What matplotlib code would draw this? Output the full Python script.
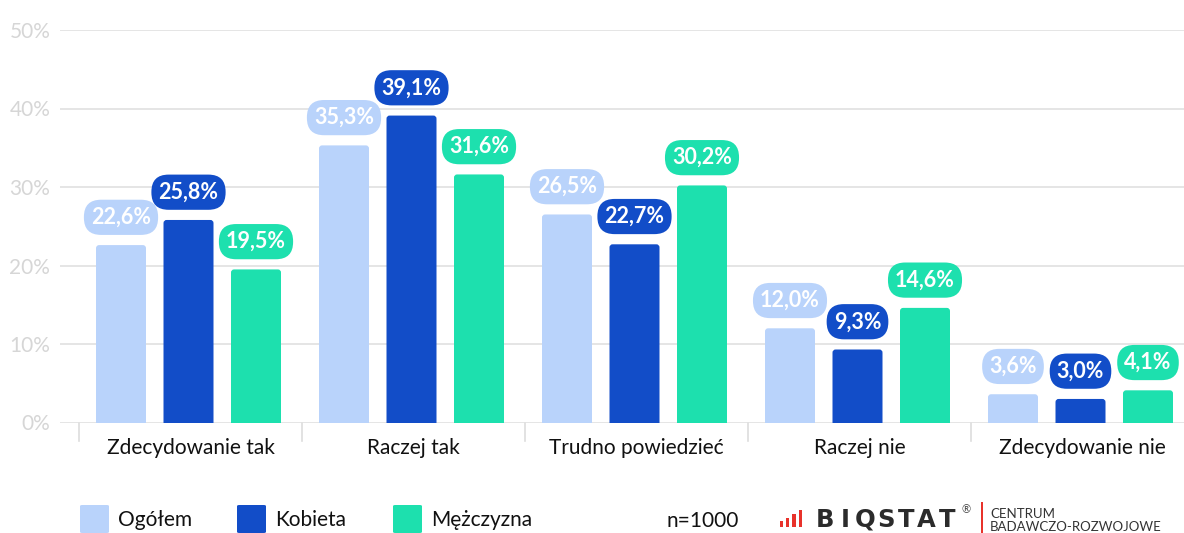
import matplotlib
matplotlib.use("Agg")
import matplotlib.pyplot as plt
import numpy as np
from matplotlib.patches import Rectangle, FancyBboxPatch

plt.rcParams['font.family'] = ['Lato', 'DejaVu Sans']

categories = ["Zdecydowanie tak", "Raczej tak", "Trudno powiedzieć", "Raczej nie", "Zdecydowanie nie"]
series_names = ["Ogółem", "Kobieta", "Mężczyzna"]
ogolem = [22.6, 35.3, 26.5, 12.0, 3.6]
kobieta = [25.8, 39.1, 22.7, 9.3, 3.0]
mezczyzna = [19.5, 31.6, 30.2, 14.6, 4.1]
yticks = [0, 10, 20, 30, 40, 50]
n_label = "n=1000"

colors = ["#b9d3fb", "#124dc8", "#1de0ae"]
series = [ogolem, kobieta, mezczyzna]

W, H = 1184, 533
fig = plt.figure(figsize=(W / 100, H / 100), dpi=100)
px_left, px_right = 60, 1184
px_zero, px_top = 422.5, 30
ax = fig.add_axes([px_left / W, (H - px_zero) / H, (px_right - px_left) / W, (px_zero - px_top) / H])

cat_px = 223.0
x0 = -0.5 - (79 - px_left) / cat_px
x1 = x0 + (px_right - px_left) / cat_px
ax.set_xlim(x0, x1)
ax.set_ylim(0, 50)

x = np.arange(len(categories))
bw = 50 / cat_px
step = 67.5 / cat_px
shift = -2 / cat_px

for i, (vals, col) in enumerate(zip(series, colors)):
    xs = x + (i - 1) * step + shift
    bars = ax.bar(xs, vals, width=bw, color=col, zorder=3)
    for b in bars:
        b.set_visible(False)
        fb = FancyBboxPatch((b.get_x(), -1), b.get_width(), b.get_height() + 1,
                            boxstyle="round,pad=0,rounding_size=0.014",
                            mutation_aspect=(50 / 392.5) / (1 / cat_px),
                            facecolor=col, edgecolor='none', zorder=3)
        ax.add_patch(fb)
    for xi, v in zip(xs, vals):
        ax.annotate(f"{v:.1f}%".replace('.', ','), xy=(xi, v), xytext=(0, 20),
                    textcoords='offset points', ha='center', va='center',
                    fontsize=15.5, fontweight='bold', color='white', zorder=5,
                    bbox=dict(boxstyle="round,pad=0.33,rounding_size=0.8", fc=col, ec='none'))

ax.set_yticks(yticks)
ax.set_yticklabels([f"{t}%" for t in yticks], fontsize=15, color="#d6d6d6")
ax.yaxis.grid(True, color="#e0e0e0", linewidth=1.2, zorder=0)
ax.tick_params(axis='y', length=0, pad=7)
ax.set_xticks([])
for s in ax.spines.values():
    s.set_visible(False)

# category labels and boundary ticks
for i, c in enumerate(categories):
    ax.text(i, -3.2, c, ha='center', va='center', fontsize=15, color='#111111',
            transform=ax.transData, clip_on=False)
for b in np.arange(len(categories) + 1) - 0.5:
    ax.plot([b, b], [0, -2.4], color="#dddddd", linewidth=1.2, clip_on=False, zorder=1)

# legend
leg_x = [80, 237, 393]
for lx, col, name in zip(leg_x, colors, series_names):
    fig.patches.append(FancyBboxPatch((lx / W, (H - 533) / H), 29 / W, 28 / H,
                                      boxstyle="round,pad=0,rounding_size=0.002",
                                      transform=fig.transFigure, facecolor=col, edgecolor='none'))
    fig.text((lx + 38) / W, (H - 520) / H, name, fontsize=15, color='#111111', va='center', ha='left')

fig.text(666 / W, (H - 521) / H, n_label, fontsize=15, color='#111111', va='center', ha='left')

# logo
red = "#e8322b"
for bx, bh in zip([780, 786, 792, 799], [6, 9, 13, 17]):
    fig.patches.append(Rectangle((bx / W, (H - 527) / H), 3.5 / W, bh / H,
                                 transform=fig.transFigure, facecolor=red, edgecolor='none'))
for k, ch in enumerate("BIQSTAT"):
    fig.text((825 + k * 20.3) / W, (H - 520) / H, ch, fontsize=17.5, fontweight='heavy', color='#2b2b2b',
             va='center', ha='center', family=['DejaVu Sans'])
fig.text(962 / W, (H - 510) / H, "®", fontsize=8, color='#444444', va='center', ha='left')
fig.patches.append(Rectangle((981 / W, 0), 2 / W, 31 / H, transform=fig.transFigure,
                             facecolor=red, edgecolor='none'))
fig.text(990 / W, (H - 514) / H, "CENTRUM", fontsize=9.5, color='#333333', va='center', ha='left')
fig.text(990 / W, (H - 527) / H, "BADAWCZO-ROZWOJOWE", fontsize=9.5, color='#333333', va='center', ha='left')

fig.savefig("out.png", dpi=100)
